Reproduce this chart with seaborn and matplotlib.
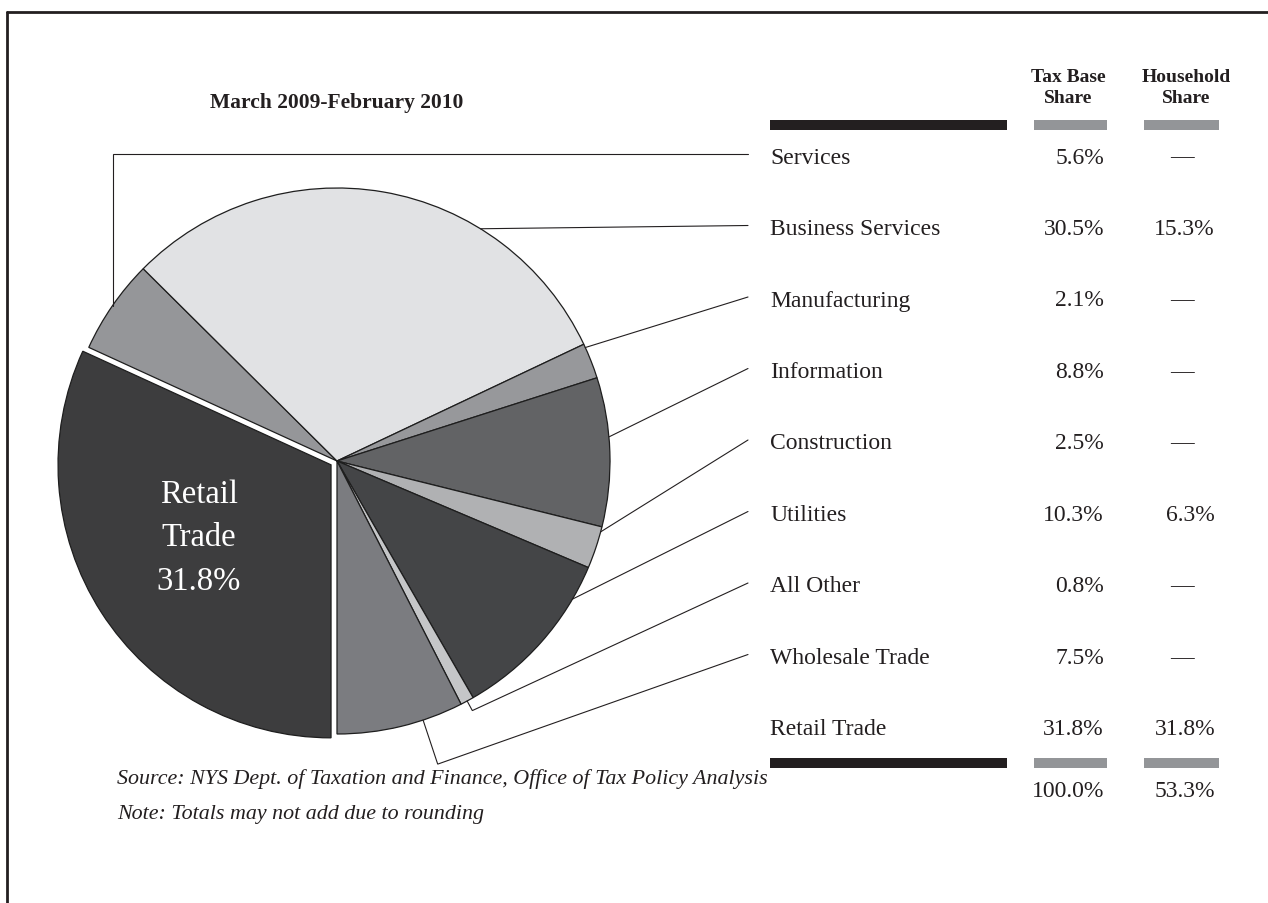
import numpy as np
import matplotlib
matplotlib.use("Agg")
import matplotlib.pyplot as plt
from matplotlib.patches import Rectangle
import seaborn as sns

# data
sectors = ['Services', 'Business Services', 'Manufacturing', 'Information',
           'Construction', 'Utilities', 'All Other', 'Wholesale Trade', 'Retail Trade']
tax_base_share = [5.6, 30.5, 2.1, 8.8, 2.5, 10.3, 0.8, 7.5, 31.8]
household_share = [None, 15.3, None, None, None, 6.3, None, None, 31.8]
tax_base_total = 100.0
household_total = 53.3
slice_colors = ['#959699', '#e1e2e4', '#97989b', '#626365', '#b0b1b3',
                '#444547', '#c5c6c8', '#7b7c80', '#3d3d3e']

sns.set_theme(style='white')
plt.rcParams['font.family'] = ['Liberation Serif', 'DejaVu Serif']

W, H = 1268, 904
ink = '#231f20'
fig = plt.figure(figsize=(W / 100, H / 100), dpi=100)
ax = fig.add_axes([0, 0, 1, 1])


def Y(y):
    # work in pixel rows measured from the top
    return H - y


# 1. Pie
cx, cy, R = 337, Y(462), 273
explode = [0.026 * R if s == 'Retail Trade' else 0 for s in sectors]
start = 270 - 360 * tax_base_share[-1] / sum(tax_base_share)
wedges, _ = ax.pie(tax_base_share, colors=slice_colors, explode=explode,
                   startangle=start, counterclock=False, center=(cx, cy), radius=R,
                   wedgeprops=dict(edgecolor='#1e1e1e', linewidth=0.9))
ax.set_xlim(0, W)
ax.set_ylim(0, H)
ax.set_aspect('equal')
ax.axis('off')

# label inside the retail slice
ax.text(199, Y(538), f'Retail\nTrade\n{tax_base_share[-1]:.1f}%', color='white',
        fontsize=23.5, ha='center', va='center', linespacing=1.55)

# 2. Leader lines to the table rows
row_y = [155 + 71.5 * i for i in range(len(sectors))]
lead_x = 748
anchor_frac = [0.5, 0.3, 0.9, 0.6, 0.88, 0.8, 0.5, 0.68, None]
elbow_r = [None, None, None, None, None, None, 1.04, 1.17, None]

for i, w in enumerate(wedges):
    if anchor_frac[i] is None:
        continue
    a = np.deg2rad(w.theta1 + anchor_frac[i] * (w.theta2 - w.theta1))
    px, py = w.center[0] + R * np.cos(a), w.center[1] + R * np.sin(a)
    xs, ys = [px], [py]
    if sectors[i] == 'Services':
        xs.append(px)
        ys.append(Y(row_y[i]))
    elif elbow_r[i] is not None:
        xs.append(w.center[0] + elbow_r[i] * R * np.cos(a))
        ys.append(w.center[1] + elbow_r[i] * R * np.sin(a))
    xs.append(lead_x)
    ys.append(Y(row_y[i]))
    ax.plot(xs, ys, color=ink, lw=0.8, solid_joinstyle='miter', clip_on=False)

# 3. Table
for i, s in enumerate(sectors):
    y = Y(row_y[i] + 3)
    ax.text(770, y, s, fontsize=17, ha='left', va='center', color=ink)
    ax.text(1104, y, f'{tax_base_share[i]:.1f}%', fontsize=17, ha='right', va='center', color=ink)
    if household_share[i] is None:
        ax.text(1182, y, '\u2014', fontsize=17, ha='center', va='center', color=ink)
    else:
        ax.text(1215, y, f'{household_share[i]:.1f}%', fontsize=17, ha='right', va='center', color=ink)

ax.text(1104, Y(792), f'{tax_base_total:.1f}%', fontsize=17, ha='right', va='center', color=ink)
ax.text(1215, Y(792), f'{household_total:.1f}%', fontsize=17, ha='right', va='center', color=ink)

for top in (121, 759):
    ax.add_patch(Rectangle((770, Y(top + 10)), 237, 10, color=ink, lw=0))
    ax.add_patch(Rectangle((1034, Y(top + 10)), 73, 10, color='#939598', lw=0))
    ax.add_patch(Rectangle((1144, Y(top + 10)), 75, 10, color='#939598', lw=0))

ax.text(1068, Y(88), 'Tax Base\nShare', fontsize=14, fontweight='bold', ha='center',
        va='center', color=ink, linespacing=1.3)
ax.text(1186, Y(88), 'Household\nShare', fontsize=14, fontweight='bold', ha='center',
        va='center', color=ink, linespacing=1.3)

# 4. Titles and notes
ax.text(337, Y(103), 'March 2009-February 2010', fontsize=15.5, fontweight='bold',
        ha='center', va='center', color=ink)
ax.text(117, Y(779), 'Source: NYS Dept. of Taxation and Finance, Office of Tax Policy Analysis',
        fontsize=15.8, style='italic', ha='left', va='center', color=ink)
ax.text(117, Y(815), 'Note: Totals may not add due to rounding',
        fontsize=15.8, style='italic', ha='left', va='center', color=ink)

# frame (top and left only)
ax.plot([7, W], [Y(12.5), Y(12.5)], color=ink, lw=2, clip_on=False)
ax.plot([7, 7], [Y(12.5), 0], color=ink, lw=2, clip_on=False)

fig.savefig('out.png', dpi=100, facecolor='white')
